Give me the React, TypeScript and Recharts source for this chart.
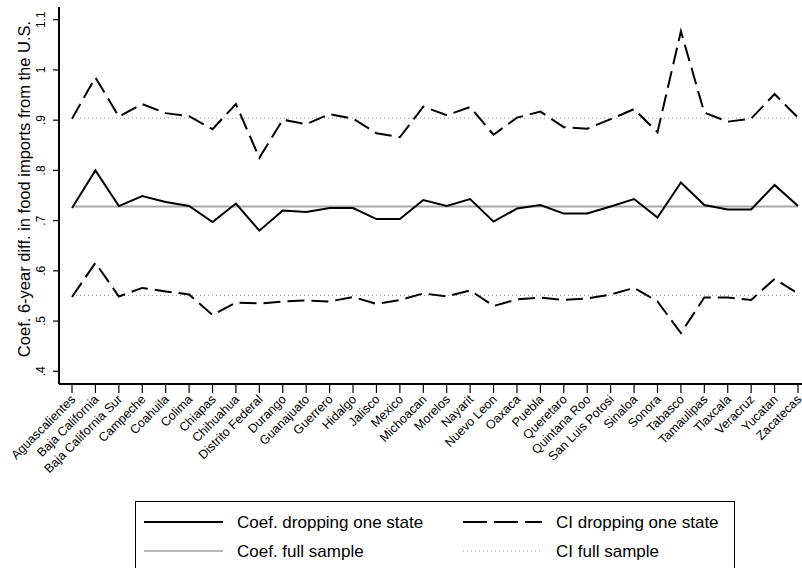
import { Line, LineChart, XAxis, YAxis } from 'recharts';

const states = [
  'Aguascalientes', 'Baja California', 'Baja California Sur', 'Campeche', 'Coahuila',
  'Colima', 'Chiapas', 'Chihuahua', 'Distrito Federal', 'Durango', 'Guanajuato',
  'Guerrero', 'Hidalgo', 'Jalisco', 'Mexico', 'Michoacan', 'Morelos', 'Nayarit',
  'Nuevo Leon', 'Oaxaca', 'Puebla', 'Queretaro', 'Quintana Roo', 'San Luis Potosi',
  'Sinaloa', 'Sonora', 'Tabasco', 'Tamaulipas', 'Tlaxcala', 'Veracruz', 'Yucatan',
  'Zacatecas',
];

// coefficient after dropping each state
const coefDrop = [
  0.725, 0.8, 0.729, 0.749, 0.737, 0.729, 0.697, 0.734, 0.68, 0.72, 0.717,
  0.725, 0.725, 0.703, 0.703, 0.741, 0.729, 0.743, 0.698, 0.724, 0.731,
  0.714, 0.714, 0.728, 0.743, 0.706, 0.776, 0.731, 0.722, 0.722, 0.771, 0.729,
];

const ciUpperDrop = [
  0.903, 0.985, 0.907, 0.932, 0.914, 0.908, 0.882, 0.932, 0.825, 0.901, 0.892,
  0.912, 0.903, 0.874, 0.866, 0.927, 0.91, 0.926, 0.871, 0.905, 0.917,
  0.886, 0.883, 0.902, 0.922, 0.876, 1.077, 0.915, 0.897, 0.903, 0.952, 0.905,
];

const ciLowerDrop = [
  0.548, 0.616, 0.549, 0.566, 0.559, 0.553, 0.512, 0.537, 0.535, 0.539, 0.541,
  0.539, 0.548, 0.534, 0.542, 0.555, 0.549, 0.561, 0.53, 0.543, 0.547,
  0.542, 0.545, 0.553, 0.566, 0.539, 0.476, 0.547, 0.547, 0.542, 0.584, 0.555,
];

const coefFull = 0.728;
const ciFullUpper = 0.904;
const ciFullLower = 0.551;

const yTicks = [0.4, 0.5, 0.6, 0.7, 0.8, 0.9, 1, 1.1];
const yTickLabels = ['.4', '.5', '.6', '.7', '.8', '.9', '1', '1.1'];

const data = states.map((state, i) => ({
  state,
  coef: coefDrop[i],
  hi: ciUpperDrop[i],
  lo: ciLowerDrop[i],
  full: coefFull,
  fullHi: ciFullUpper,
  fullLo: ciFullLower,
}));

const FONT = '"Liberation Sans", Arial, Helvetica, sans-serif';

const XTick = ({ x, y, payload }: any) => (
  <g transform={`translate(${x + 1},${y + 4})`}>
    <text
      transform="rotate(-45)"
      textAnchor="end"
      dy="0.35em"
      fontSize={12.5}
      fontFamily={FONT}
      fill="#000"
    >
      {payload.value}
    </text>
  </g>
);

const YTick = ({ x, y, payload }: any) => {
  const idx = yTicks.indexOf(payload.value);
  const tx = x - 6;
  return (
    <text
      x={tx}
      y={y}
      transform={`rotate(-90 ${tx} ${y})`}
      textAnchor="middle"
      fontSize={12}
      fontFamily={FONT}
      fill="#000"
    >
      {idx >= 0 ? yTickLabels[idx] : payload.value}
    </text>
  );
};

const YTitle = () => (
  <text
    x={24}
    y={189}
    transform="rotate(-90 24 189)"
    textAnchor="middle"
    dominantBaseline="central"
    fontSize={16.5}
    fontFamily={FONT}
    fill="#000"
  >
    Coef. 6-year diff. in food imports from the U.S.
  </text>
);

const legendItems = [
  { label: 'Coef. dropping one state', stroke: '#000', width: 2, dash: undefined, col: 0, row: 0 },
  { label: 'CI dropping one state', stroke: '#000', width: 2, dash: '24 7', col: 1, row: 0 },
  { label: 'Coef. full sample', stroke: '#777', width: 1, dash: undefined, col: 0, row: 1 },
  { label: 'CI full sample', stroke: '#999', width: 1, dash: '1 3', col: 1, row: 1 },
];

const LegendBox = () => (
  <div
    style={{
      position: 'absolute',
      left: 135,
      top: 501,
      width: 600,
      height: 90,
      border: '1.3px solid #000',
      boxSizing: 'border-box',
      background: '#fff',
    }}
  >
    <svg width={600} height={90} style={{ position: 'absolute', left: -1, top: -1 }}>
      {legendItems.map((it) => {
        const lx = it.col === 0 ? 9 : 328;
        const ly = it.row === 0 ? 21 : 50;
        return (
          <g key={it.label}>
            <line
              x1={lx}
              x2={lx + 79}
              y1={ly}
              y2={ly}
              stroke={it.stroke}
              strokeWidth={it.width}
              strokeDasharray={it.dash}
            />
            <text
              x={lx + 93}
              y={ly}
              dominantBaseline="central"
              fontSize={17}
              fontFamily={FONT}
              fill="#000"
            >
              {it.label}
            </text>
          </g>
        );
      })}
    </svg>
  </div>
);

export default function App() {
  return (
    <div
      style={{
        position: 'absolute',
        left: 0,
        top: 0,
        width: 802,
        height: 568,
        overflow: 'hidden',
        background: '#fff',
        fontFamily: FONT,
      }}
    >
      <LineChart
        width={802}
        height={568}
        data={data}
        margin={{ top: 7, right: 0, bottom: 0, left: 0 }}
      >
        <XAxis
          dataKey="state"
          interval={0}
          tickSize={9}
          tickMargin={0}
          height={184}
          padding={{ left: 13, right: 4 }}
          axisLine={{ stroke: '#000', strokeWidth: 2 }}
          tickLine={{ stroke: '#000', strokeWidth: 1.2 }}
          tick={<XTick />}
        />
        <XAxis
          xAxisId="top"
          dataKey="state"
          orientation="top"
          height={0}
          tick={false}
          tickLine={false}
          axisLine={{ stroke: '#555', strokeWidth: 2 }}
        />
        <YAxis
          domain={[0.3747, 1.1253]}
          ticks={yTicks}
          width={59}
          tickSize={6}
          tickMargin={2}
          allowDataOverflow
          axisLine={{ stroke: '#000', strokeWidth: 2 }}
          tickLine={{ stroke: '#000', strokeWidth: 1.2 }}
          tick={<YTick />}
          label={{ content: () => <YTitle /> }}
        />
        <Line dataKey="full" stroke="#a8a8a8" strokeWidth={2} dot={false} activeDot={false} isAnimationActive={false} />
        <Line dataKey="fullHi" stroke="#999" strokeWidth={1} strokeDasharray="1 3" dot={false} activeDot={false} isAnimationActive={false} />
        <Line dataKey="fullLo" stroke="#999" strokeWidth={1} strokeDasharray="1 3" dot={false} activeDot={false} isAnimationActive={false} />
        <Line dataKey="coef" stroke="#000" strokeWidth={2} dot={false} activeDot={false} isAnimationActive={false} />
        <Line dataKey="hi" stroke="#000" strokeWidth={2} strokeDasharray="17 7" dot={false} activeDot={false} isAnimationActive={false} />
        <Line dataKey="lo" stroke="#000" strokeWidth={2} strokeDasharray="17 7" dot={false} activeDot={false} isAnimationActive={false} />
      </LineChart>
      <LegendBox />
    </div>
  );
}
